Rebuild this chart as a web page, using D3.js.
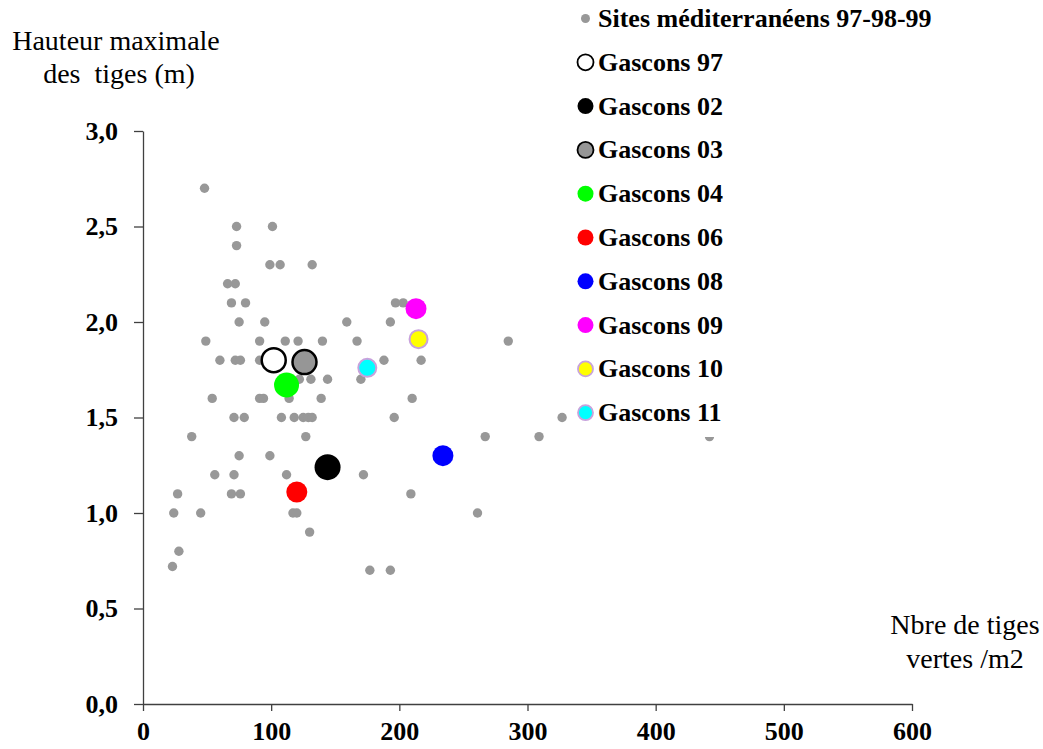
<!DOCTYPE html>
<html>
<head>
<meta charset="utf-8">
<script src="https://cdn.jsdelivr.net/npm/d3@7"></script>
<style>
  body { margin: 0; background: #fff; }
  svg { display: block; font-family: "Liberation Serif", "Times New Roman", serif; }
  .axis path, .axis line { stroke: #404040; stroke-width: 1.3; }
  .axis text { font-size: 26px; font-weight: bold; fill: #000; font-family: "Liberation Serif", serif; }
  .titre { font-size: 28px; fill: #000; white-space: pre; }
  .leg { font-size: 26px; font-weight: bold; fill: #000; }
</style>
</head>
<body>
<script>
// sites mediterraneens 97-98-99 (nombre de tiges / hauteur max)
var siteTiges = [48, 73, 101, 73, 99, 107, 132, 66, 72, 69, 80, 197, 203,
  75, 95, 159, 193, 49, 91, 111, 121, 140, 167, 285,
  60, 72, 76, 91, 188, 217, 122, 131, 144, 170,
  54, 91, 94, 114, 139, 210,
  71, 79, 108, 118, 125, 129, 132, 196, 327,
  38, 127, 267, 309, 442, 75, 99, 56, 71, 112, 172,
  27, 69, 76, 209, 24, 45, 117, 120, 261, 130, 28, 23, 177, 193];
var siteHauteur = [2.7, 2.5, 2.5, 2.4, 2.3, 2.3, 2.3, 2.2, 2.2, 2.1, 2.1, 2.1, 2.1,
  2.0, 2.0, 2.0, 2.0, 1.9, 1.9, 1.9, 1.9, 1.9, 1.9, 1.9,
  1.8, 1.8, 1.8, 1.8, 1.8, 1.8, 1.7, 1.7, 1.7, 1.7,
  1.6, 1.6, 1.6, 1.6, 1.6, 1.6,
  1.5, 1.5, 1.5, 1.5, 1.5, 1.5, 1.5, 1.5, 1.5,
  1.4, 1.4, 1.4, 1.4, 1.4, 1.3, 1.3, 1.2, 1.2, 1.2, 1.2,
  1.1, 1.1, 1.1, 1.1, 1.0, 1.0, 1.0, 1.0, 1.0, 0.9, 0.8, 0.72, 0.7, 0.7];

// sites gascons, une valeur par annee
var gascons = ["Gascons 97", "Gascons 02", "Gascons 03", "Gascons 04", "Gascons 06",
  "Gascons 08", "Gascons 09", "Gascons 10", "Gascons 11"];
var gasconsTiges = [102, 144, 126, 112, 120, 234, 213, 215, 175];
var gasconsHauteur = [1.80, 1.24, 1.79, 1.67, 1.11, 1.30, 2.07, 1.91, 1.76];

var xTicks = [0, 100, 200, 300, 400, 500, 600];
var yTicks = [0, 0.5, 1, 1.5, 2, 2.5, 3];

// styles des marqueurs
var style = {
  "Gascons 97": { fill: "#ffffff", stroke: "#000", sw: 2.5, r: 12 },
  "Gascons 02": { fill: "#000000", stroke: "none", sw: 0, r: 13 },
  "Gascons 03": { fill: "#969696", stroke: "#000", sw: 2.5, r: 12 },
  "Gascons 04": { fill: "#00ff00", stroke: "none", sw: 0, r: 12.5 },
  "Gascons 06": { fill: "#ff0000", stroke: "none", sw: 0, r: 10.5 },
  "Gascons 08": { fill: "#0000ff", stroke: "none", sw: 0, r: 10.5 },
  "Gascons 09": { fill: "#ff00ff", stroke: "none", sw: 0, r: 10.5 },
  "Gascons 10": { fill: "#ffff00", stroke: "#c8a2dc", sw: 2, r: 9 },
  "Gascons 11": { fill: "#00ffff", stroke: "#c8a2dc", sw: 2, r: 9 }
};

var svg = d3.select("body").append("svg")
    .attr("width", 1043)
    .attr("height", 749);

var x = d3.scaleLinear().domain([0, 600]).range([143, 912]);
var y = d3.scaleLinear().domain([0, 3]).range([704, 131]);

var virgule = d3.formatLocale({ decimal: ",", thousands: " ", grouping: [3], currency: ["", "€"] });

svg.append("g")
    .attr("class", "axis")
    .attr("transform", "translate(0,704)")
    .call(d3.axisBottom(x).tickValues(xTicks).tickSize(7).tickSizeOuter(0).tickPadding(11).tickFormat(d3.format("d")));

svg.append("g")
    .attr("class", "axis")
    .attr("transform", "translate(143,0)")
    .call(d3.axisLeft(y).tickValues(yTicks).tickSize(9).tickSizeOuter(0).tickPadding(16).tickFormat(virgule.format(".1f")));

// nuage gris
var sites = siteTiges.map(function(d, i) { return { x: d, y: siteHauteur[i] }; });
svg.selectAll(".site")
    .data(sites)
    .enter().append("circle")
    .attr("class", "site")
    .attr("cx", function(d) { return x(d.x); })
    .attr("cy", function(d) { return y(d.y); })
    .attr("r", 4.7)
    .attr("fill", "#989898");

var gasc = gascons.map(function(n, i) { return { nom: n, x: gasconsTiges[i], y: gasconsHauteur[i] }; });
svg.selectAll(".gascon")
    .data(gasc)
    .enter().append("circle")
    .attr("class", "gascon")
    .attr("cx", function(d) { return x(d.x); })
    .attr("cy", function(d) { return y(d.y); })
    .attr("r", function(d) { return style[d.nom].r; })
    .attr("fill", function(d) { return style[d.nom].fill; })
    .attr("stroke", function(d) { return style[d.nom].stroke; })
    .attr("stroke-width", function(d) { return style[d.nom].sw; });

// legende (fond blanc, elle cache un peu le point a 442)
var leg = svg.append("g");
leg.append("rect")
    .attr("x", 572).attr("y", 0)
    .attr("width", 370).attr("height", 437)
    .attr("fill", "#fff");

var legItems = ["Sites méditerranéens 97-98-99"].concat(gascons);
var rows = leg.selectAll(".row")
    .data(legItems)
    .enter().append("g")
    .attr("transform", function(d, i) { return "translate(0," + (27 + i * 43.8) + ")"; });

rows.append("circle")
    .attr("cx", 585.5)
    .attr("cy", -8.5)
    .attr("r", function(d, i) { return i == 0 ? 4.5 : (d == "Gascons 10" || d == "Gascons 11" ? 7.5 : 8); })
    .attr("fill", function(d, i) { return i == 0 ? "#989898" : style[d].fill; })
    .attr("stroke", function(d, i) { return i == 0 ? "none" : style[d].stroke; })
    .attr("stroke-width", function(d, i) { return i == 0 ? 0 : (style[d].sw ? 1.8 : 0); });

rows.append("text")
    .attr("class", "leg")
    .attr("x", 598)
    .attr("y", 0)
    .text(function(d) { return d; });

// titres des axes
var ty = svg.append("text").attr("class", "titre").attr("text-anchor", "middle");
ty.append("tspan").attr("x", 116).attr("y", 50).text("Hauteur maximale");
ty.append("tspan").attr("x", 119).attr("y", 83).text("des  tiges (m)");

var tx = svg.append("text").attr("class", "titre").attr("text-anchor", "middle");
tx.append("tspan").attr("x", 965).attr("y", 634).text("Nbre de tiges");
tx.append("tspan").attr("x", 965).attr("y", 668).text("vertes /m2");
</script>
</body>
</html>
